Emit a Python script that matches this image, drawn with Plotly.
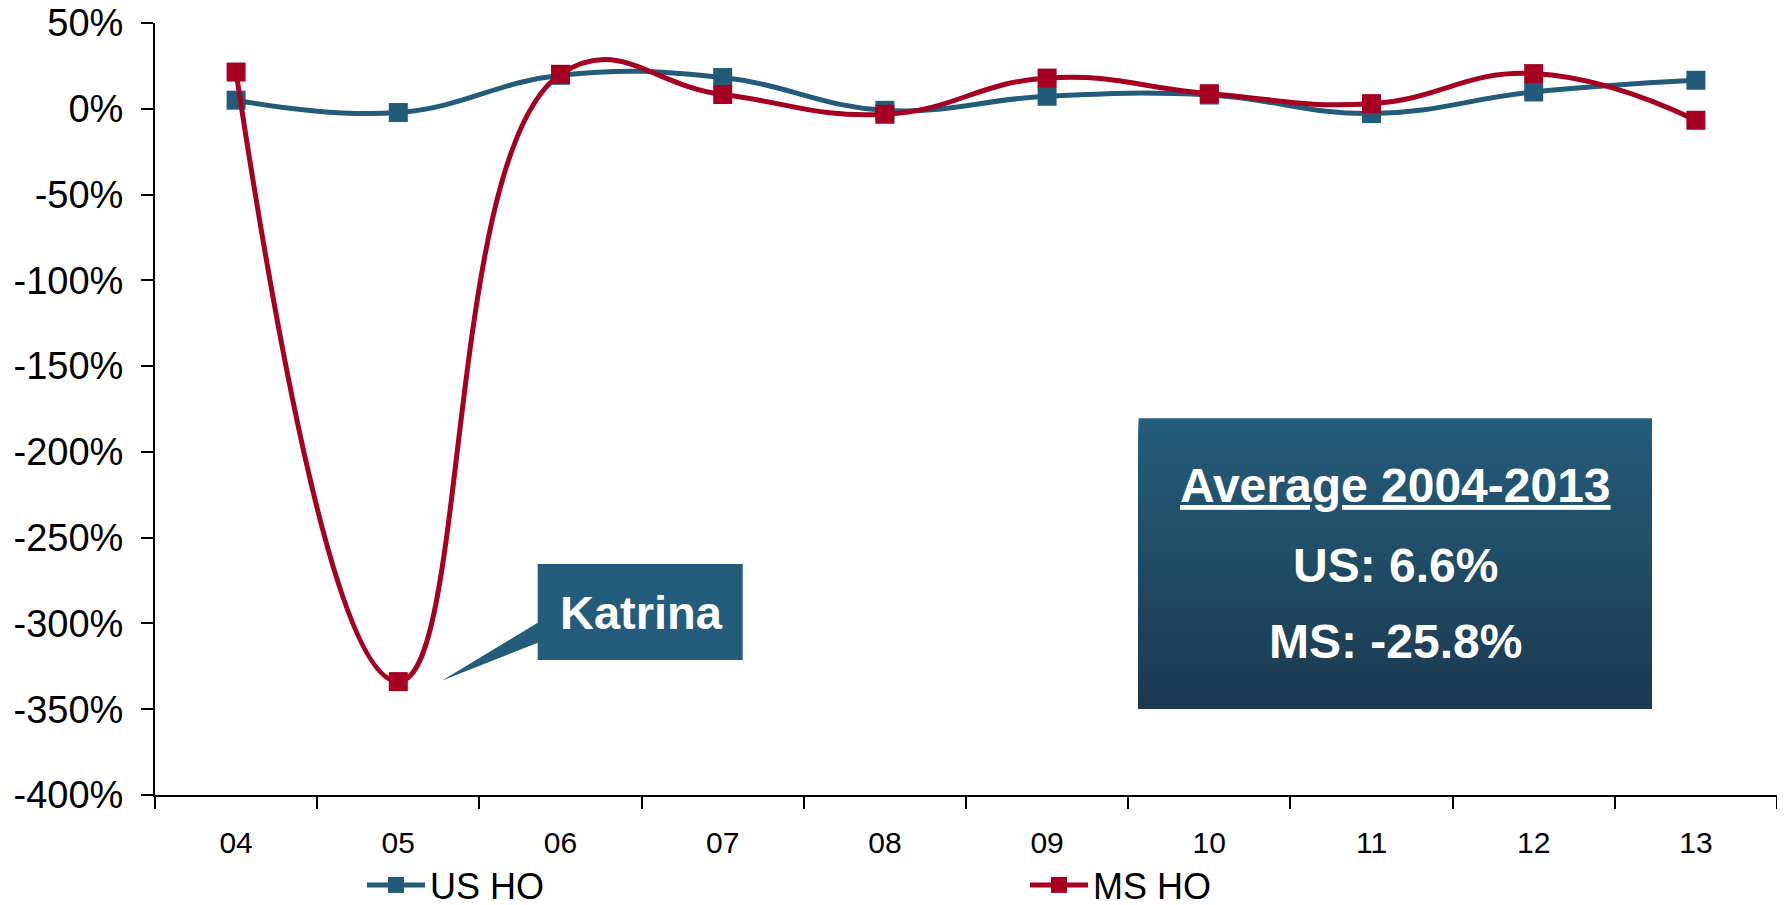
import plotly.graph_objects as go

# ---------------- data ----------------
years = ["04", "05", "06", "07", "08", "09", "10", "11", "12", "13"]
us_ho = [5.0, -2.2, 19.5, 18.2, -0.9, 7.3, 8.0, -2.8, 9.8, 16.6]
ms_ho = [21.4, -333.9, 20.1, 8.3, -3.2, 17.9, 8.8, 3.0, 20.5, -6.7]

y_tickvals = [50, 0, -50, -100, -150, -200, -250, -300, -350, -400]
y_ticktext = ["50%", "0%", "-50%", "-100%", "-150%", "-200%", "-250%", "-300%", "-350%", "-400%"]

series_names = ["US HO", "MS HO"]
callout_text = "Katrina"
avg_title = "Average 2004-2013"
avg_us = "US: 6.6%"
avg_ms = "MS: -25.8%"

# ---------------- style ----------------
OFF = 8  # default page body margin
W, H = 1785 - OFF, 905 - OFF
# plot area in screen pixels: x 155..1777, y 22.7..795
SX0, SX1, SY0, SY1 = 155, 1777, 22.7, 795
ML = SX0 - OFF
MR = W - (SX1 - OFF)
MT = SY0 - OFF
MB = H - (SY1 - OFF)
PW, PH = SX1 - SX0, SY1 - SY0
FONT = "Liberation Sans, Arial, sans-serif"
BLUE = "#235B7A"
RED = "#A50021"


def px(x):
    return (x - SX0) / PW


def py(y):
    return (SY1 - y) / PH


fig = go.Figure()
fig.add_trace(go.Scatter(
    x=years, y=us_ho, name=series_names[0], mode="lines+markers",
    line=dict(color=BLUE, width=5, shape="spline", smoothing=1.2),
    marker=dict(symbol="square", size=19, color=BLUE),
))
fig.add_trace(go.Scatter(
    x=years, y=ms_ho, name=series_names[1], mode="lines+markers",
    line=dict(color=RED, width=5, shape="spline", smoothing=1.3),
    marker=dict(symbol="square", size=19, color=RED),
))

shapes = []
# Average box with vertical gradient (nested rects, no seams)
bx0, bx1, by0, by1 = 1138.6, 1652, 418, 709
top = (37, 93, 123)
bot = (27, 58, 80)
N = 60
for i in range(N):
    t = (i + 0.5) / N
    c = tuple(int(round(top[k] + (bot[k] - top[k]) * t)) for k in range(3))
    ya = by0 + (by1 - by0) * i / N
    shapes.append(dict(type="rect", xref="paper", yref="paper",
                       x0=px(bx0), x1=px(bx1), y0=py(by1), y1=py(ya),
                       fillcolor="rgb(%d,%d,%d)" % c, line=dict(width=0), layer="above"))

# Katrina callout
kx0, kx1, ky0, ky1 = 537.7, 742.7, 564, 660
pts = [(kx0, ky0), (kx1, ky0), (kx1, ky1), (kx0, ky1), (kx0, 642.7), (441.7, 680.7), (kx0, 622.7)]
path = "M " + " L ".join("%.5f,%.5f" % (px(a), py(b)) for a, b in pts) + " Z"
shapes.append(dict(type="path", xref="paper", yref="paper", path=path,
                   fillcolor="#245C7B", line=dict(width=0), layer="above"))

annotations = [
    dict(text="<b>%s</b>" % callout_text, xref="paper", yref="paper",
         x=px(641), y=py(612), xanchor="center", yanchor="middle", showarrow=False,
         font=dict(family=FONT, size=47, color="white")),
    dict(text="<b><u>%s</u></b>" % avg_title, xref="paper", yref="paper",
         x=px(1395), y=py(485), xanchor="center", yanchor="middle", showarrow=False,
         font=dict(family=FONT, size=48, color="white")),
    dict(text="<b>%s</b>" % avg_us, xref="paper", yref="paper",
         x=px(1395), y=py(565), xanchor="center", yanchor="middle", showarrow=False,
         font=dict(family=FONT, size=48, color="white")),
    dict(text="<b>%s</b>" % avg_ms, xref="paper", yref="paper",
         x=px(1395), y=py(641), xanchor="center", yanchor="middle", showarrow=False,
         font=dict(family=FONT, size=48, color="white")),
]

fig.update_layout(
    width=W, height=H,
    margin=dict(l=ML, r=MR, t=MT, b=MB, autoexpand=False),
    paper_bgcolor="white", plot_bgcolor="white",
    font=dict(family=FONT, color="black"),
    shapes=shapes, annotations=annotations,
    showlegend=True,
    legend=dict(orientation="h", xref="container", yref="container",
                x=(362 - OFF) / W, y=1 - (885 - OFF) / H, xanchor="left", yanchor="middle",
                itemwidth=58, entrywidth=590, entrywidthmode="pixels",
                font=dict(family=FONT, size=36, color="black"),
                bgcolor="rgba(0,0,0,0)"),
    hovermode=False,
)
fig.update_xaxes(
    type="category", categoryorder="array", categoryarray=years,
    range=[-0.5, len(years) - 0.5], automargin=False,
    showline=True, linecolor="black", linewidth=2,
    ticks="outside", tickson="boundaries", ticklen=12, tickwidth=1.5, tickcolor="black",
    showgrid=False, zeroline=False,
    tickfont=dict(family=FONT, size=30, color="black"),
    ticklabelstandoff=20,
)
fig.update_yaxes(
    range=[-400, 50], tickmode="array", tickvals=y_tickvals, ticktext=y_ticktext,
    automargin=False, ticklabeloverflow="allow",
    showline=True, linecolor="black", linewidth=2,
    ticks="outside", ticklen=12, tickwidth=1.5, tickcolor="black",
    showgrid=False, zeroline=False,
    tickfont=dict(family=FONT, size=38, color="black"),
    ticklabelstandoff=10,
)

fig.write_html("out.html")
